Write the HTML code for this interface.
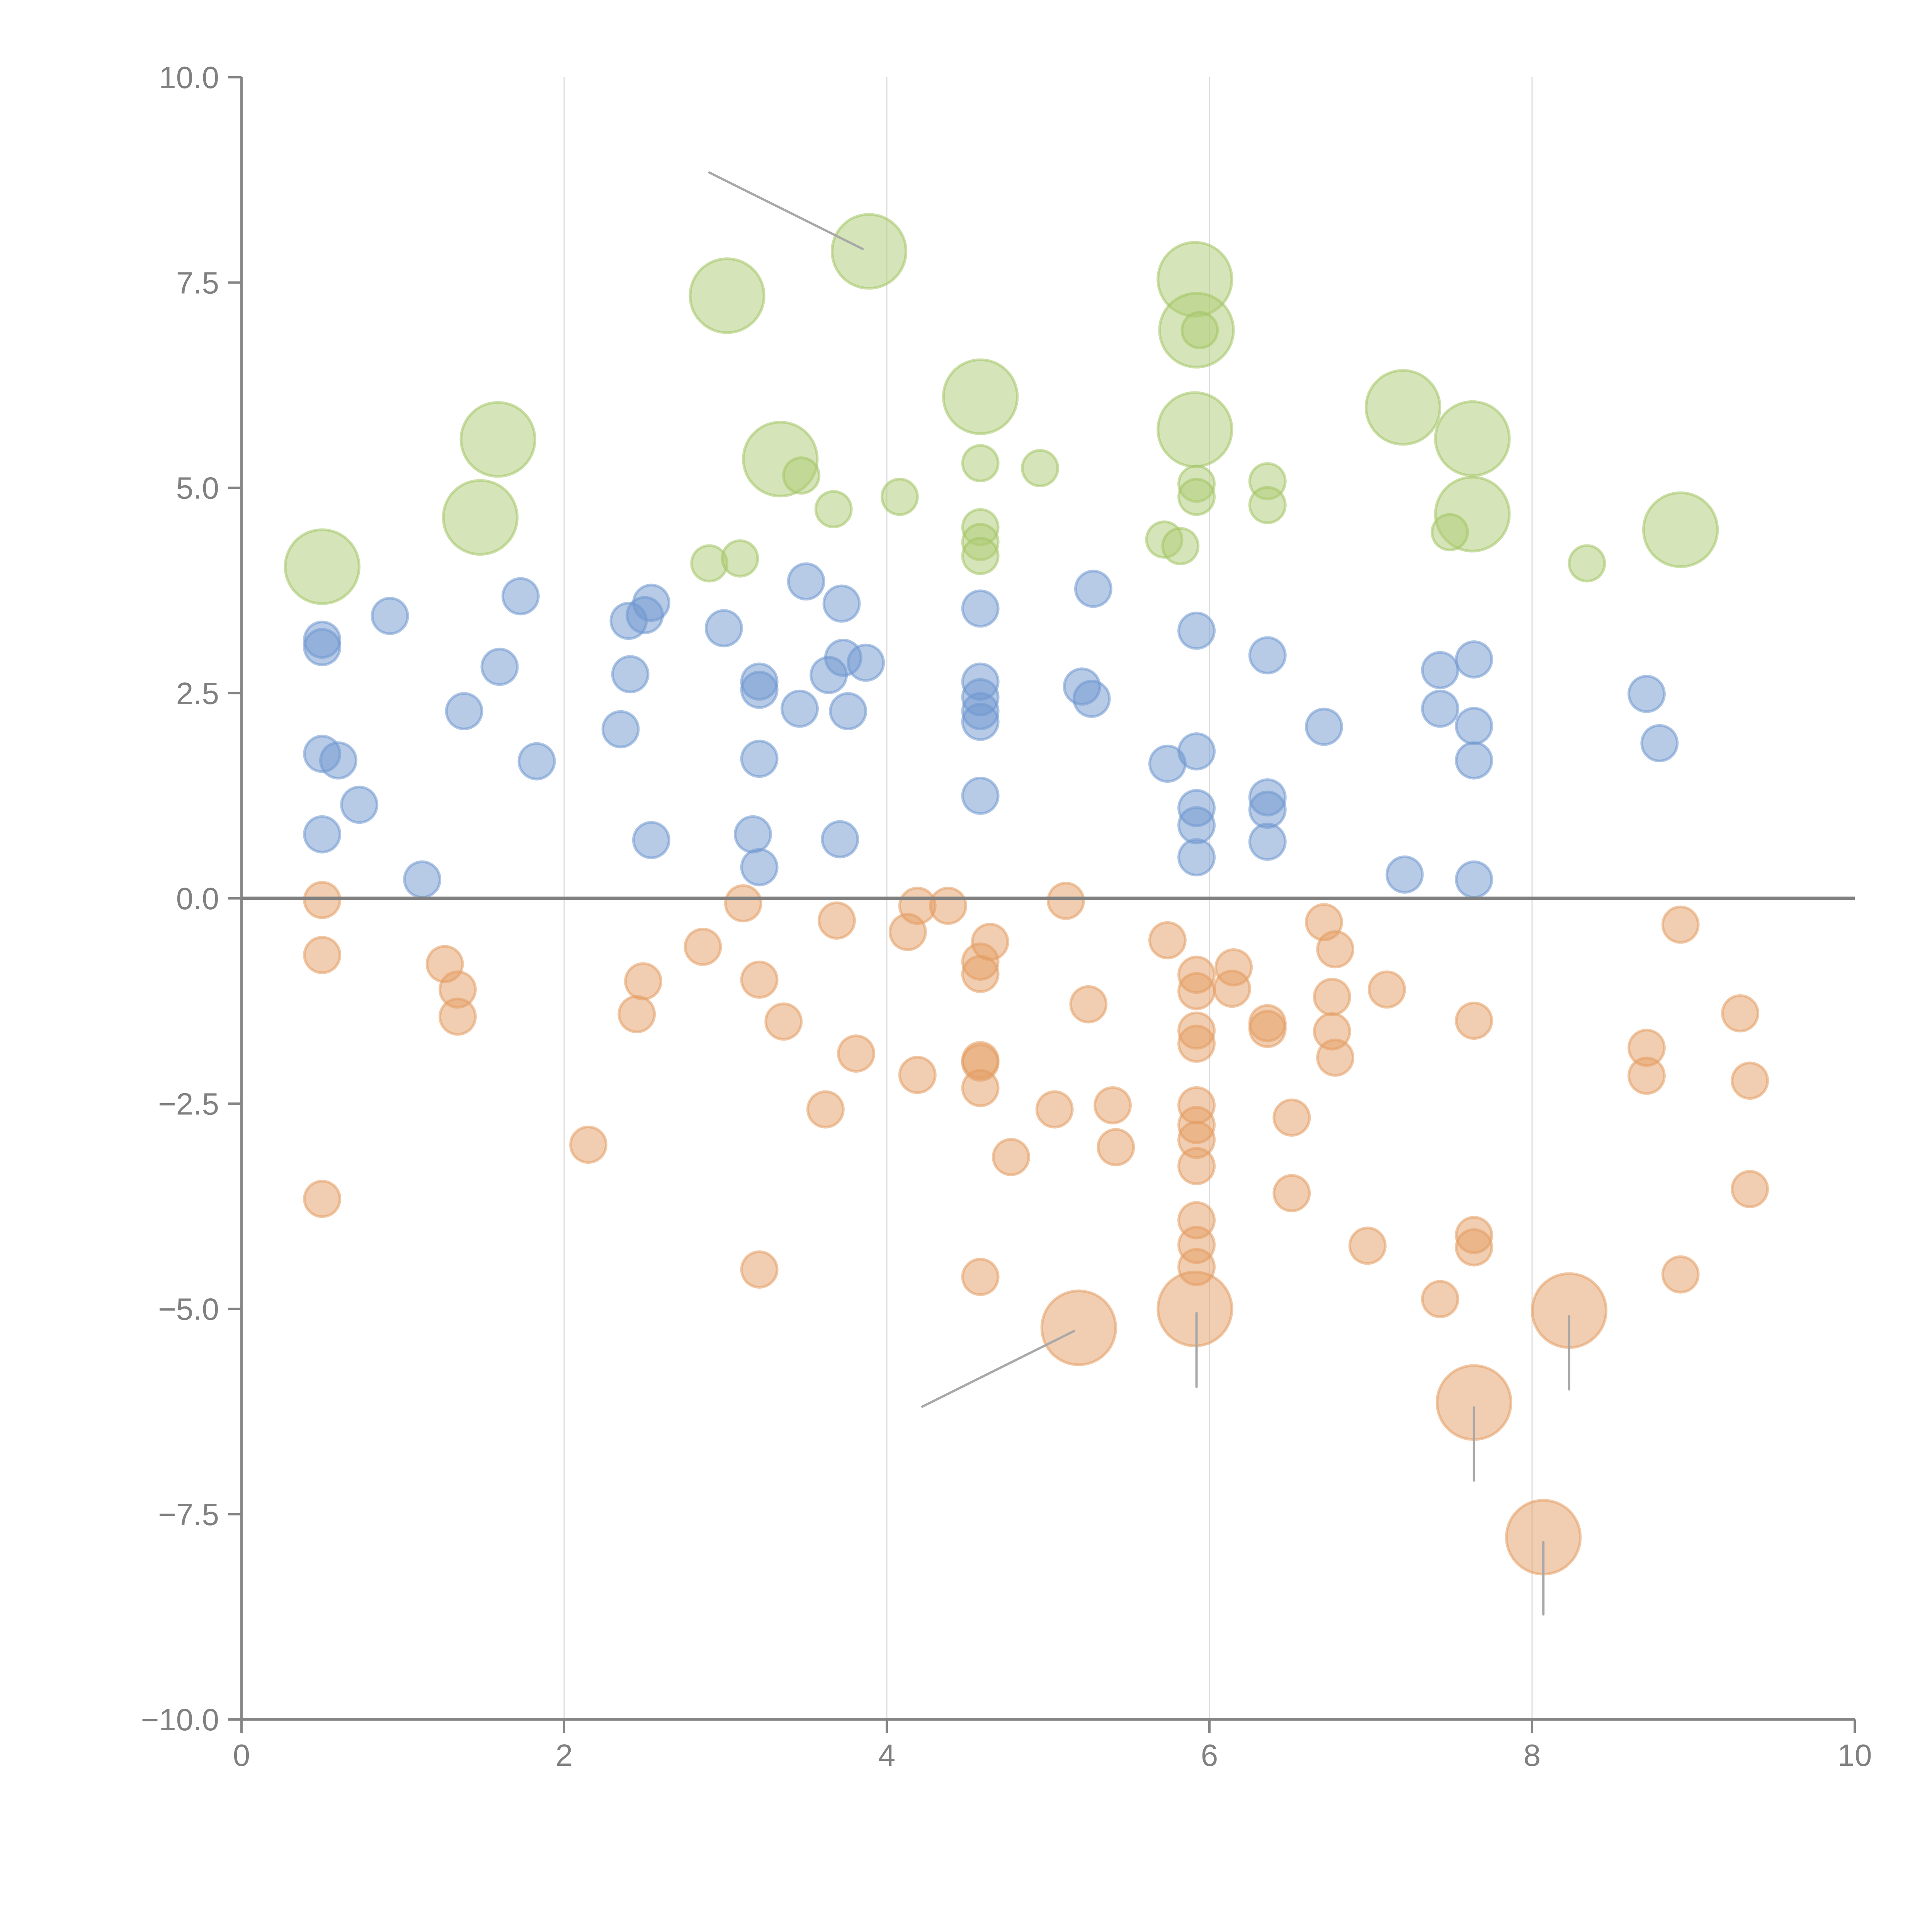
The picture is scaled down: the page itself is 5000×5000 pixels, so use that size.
<!DOCTYPE html>
<html><head><meta charset="utf-8"><style>
html,body{margin:0;padding:0;background:#fff}
svg{display:block}
text{font-family:"Liberation Sans",sans-serif;fill:#808080}
</style></head><body>
<svg id="chart" width="5000" height="5000" viewBox="0 0 5000 5000" xmlns="http://www.w3.org/2000/svg">
<g id="grid"></g>
<g id="marks"></g>
<g id="leaders"></g>
<g id="axes"></g>
</svg>
<script>
const xTicks=[0,2,4,6,8,10];
const xTickLabels=["0","2","4","6","8","10"];
const yTicks=[10,7.5,5,2.5,0,-2.5,-5,-7.5,-10];
const yTickLabels=["10.0","7.5","5.0","2.5","0.0","\u22122.5","\u22125.0","\u22127.5","\u221210.0"];

const greenX=[0.50,1.48,1.59,3.01,3.89,3.34,4.58,5.91,5.92,5.91,7.20,7.63,7.63,8.92,3.47,3.67,4.08,2.90,3.09,4.58,4.95,4.58,4.58,4.58,5.72,5.82,5.92,5.92,5.94,6.36,6.36,7.49,8.34];
const greenY=[4.04,4.64,5.59,7.34,7.88,5.35,6.11,7.54,6.92,5.71,5.98,5.60,4.68,4.49,5.15,4.74,4.89,4.08,4.14,5.30,5.24,4.52,4.34,4.17,4.37,4.29,5.05,4.89,6.92,5.08,4.79,4.46,4.08];
const greenSize=[4,4,4,4,4,4,4,4,4,4,4,4,4,4,1,1,1,1,1,1,1,1,1,1,1,1,1,1,1,1,1,1,1];

const blueX=[0.50,0.50,0.92,1.73,1.60,1.38,0.50,0.60,0.73,0.50,1.12,1.83,2.40,2.50,2.54,2.41,2.35,2.54,2.99,3.21,3.21,3.46,3.21,3.17,3.21,3.50,3.72,3.73,3.87,3.64,3.76,3.71,4.58,4.58,4.58,4.58,4.58,4.58,5.28,5.21,5.27,5.74,5.92,5.92,5.92,5.92,5.92,6.36,6.36,6.36,6.36,6.71,7.21,7.43,7.43,7.64,7.64,7.64,7.64,8.71,8.79];
const blueY=[3.15,3.06,3.44,3.68,2.82,2.28,1.76,1.68,1.14,0.78,0.23,1.67,3.38,3.45,3.60,2.73,2.06,0.71,3.29,2.64,2.54,2.31,1.70,0.78,0.38,3.86,3.59,2.93,2.87,2.72,2.28,0.72,3.53,2.64,2.45,2.28,2.15,1.25,3.77,2.58,2.43,1.64,3.26,1.79,1.10,0.89,0.50,2.96,1.23,1.08,0.69,2.09,0.29,2.78,2.31,2.91,2.10,1.68,0.23,2.49,1.89];

const orangeX=[0.50,0.50,0.50,1.26,1.34,1.34,2.15,2.49,2.45,2.86,3.11,3.21,3.36,3.21,3.62,3.69,3.81,4.13,4.19,4.38,4.19,4.64,4.58,4.58,4.58,4.58,4.58,4.77,4.58,5.11,5.25,5.04,5.40,5.42,5.74,5.92,5.92,5.92,5.92,5.92,5.92,5.92,5.92,5.92,5.92,5.92,6.15,6.14,6.36,6.36,6.51,6.51,6.71,6.78,6.76,6.76,6.78,7.10,6.98,7.43,7.64,7.64,7.64,8.71,8.71,8.92,9.29,9.35,9.35,8.92,5.19,5.91,8.23,7.64,8.07];
const orangeY=[-0.02,-0.69,-3.66,-0.80,-1.11,-1.44,-3.00,-1.01,-1.41,-0.59,-0.06,-0.99,-1.50,-4.52,-2.57,-0.27,-1.89,-0.41,-0.09,-0.09,-2.15,-0.53,-0.77,-0.92,-1.97,-2.00,-2.31,-3.15,-4.61,-0.03,-1.29,-2.57,-2.52,-3.03,-0.51,-0.93,-1.13,-1.61,-1.77,-2.52,-2.76,-2.94,-3.26,-3.92,-4.22,-4.49,-0.84,-1.10,-1.52,-1.59,-2.67,-3.59,-0.29,-0.62,-1.20,-1.62,-1.94,-1.11,-4.23,-4.88,-1.49,-4.10,-4.25,-1.82,-2.16,-0.32,-1.40,-2.22,-3.54,-4.58,-5.23,-5.00,-5.02,-6.14,-7.78];
const orangeSize=[1,1,1,1,1,1,1,1,1,1,1,1,1,1,1,1,1,1,1,1,1,1,1,1,1,1,1,1,1,1,1,1,1,1,1,1,1,1,1,1,1,1,1,1,1,1,1,1,1,1,1,1,1,1,1,1,1,1,1,1,1,1,1,1,1,1,1,1,1,1,4,4,4,4,4];

const leaderX1=[2.90,5.16,5.92,8.23,7.64,8.07];
const leaderY1=[8.84,-5.27,-5.05,-5.09,-6.20,-7.84];
const leaderX2=[3.85,4.22,5.92,8.23,7.64,8.07];
const leaderY2=[7.91,-6.19,-5.95,-5.98,-7.09,-8.72];

const NS="http://www.w3.org/2000/svg";
function xs(v){return 625+417.5*v;}
function ys(v){return 2325-212.5*v;}
function mk(tag,attrs,parent){const e=document.createElementNS(NS,tag);for(const k in attrs)e.setAttribute(k,attrs[k]);parent.appendChild(e);return e;}

const grid=document.getElementById('grid');
[2,4,6,8].forEach(v=>{
  const l=mk('line',{x1:xs(v),x2:xs(v),y1:ys(10),y2:ys(-10),stroke:'#dcdcdc','stroke-width':3},grid);
  
  
});

const marks=document.getElementById('marks');
function series(X,Y,S,fill,stroke,name){
  X.forEach((x,i)=>{
    const s=S?S[i]:1;
    const c=mk('circle',{cx:xs(x),cy:ys(Y[i]),r:46*Math.sqrt(s)*(s>1?1.04:1),fill:fill,'fill-opacity':0.5,stroke:stroke,'stroke-opacity':0.55,'stroke-width':7},marks);
    
    
  });
}
series(greenX,greenY,greenSize,'#aecb74','#a3c464','green-bubble');
series(blueX,blueY,null,'#6f98cf','#6f98cf','blue-bubble');
series(orangeX,orangeY,orangeSize,'#e49d63','#e49d63','orange-bubble');

const leaders=document.getElementById('leaders');
leaderX1.forEach((x,i)=>{
  const l=mk('line',{x1:xs(x),y1:ys(leaderY1[i]),x2:xs(leaderX2[i]),y2:ys(leaderY2[i]),stroke:'#a8a8a8','stroke-width':6,'stroke-linecap':'round'},leaders);
  
  
});

const axes=document.getElementById('axes');
let a=mk('line',{x1:xs(0),x2:xs(0),y1:ys(10),y2:ys(-10),stroke:'#858585','stroke-width':6},axes);


a=mk('line',{x1:xs(0),x2:xs(10),y1:ys(-10),y2:ys(-10),stroke:'#858585','stroke-width':6},axes);


a=mk('line',{x1:xs(0),x2:xs(10),y1:ys(0),y2:ys(0),stroke:'#808080','stroke-width':9},axes);


yTicks.forEach((v,i)=>{
  const t=mk('line',{x1:xs(0)-35,x2:xs(0),y1:ys(v),y2:ys(v),stroke:'#858585','stroke-width':6},axes);
  
  
  const tx=mk('text',{x:xs(0)-58,y:ys(v)+28,'text-anchor':'end','font-size':80},axes);
  tx.textContent=yTickLabels[i];
  
  
});
xTicks.forEach((v,i)=>{
  const t=mk('line',{x1:xs(v),x2:xs(v),y1:ys(-10),y2:ys(-10)+35,stroke:'#858585','stroke-width':6},axes);
  
  
  const tx=mk('text',{x:xs(v),y:ys(-10)+120,'text-anchor':'middle','font-size':80},axes);
  tx.textContent=xTickLabels[i];
  
  
});
</script>
</body></html>
